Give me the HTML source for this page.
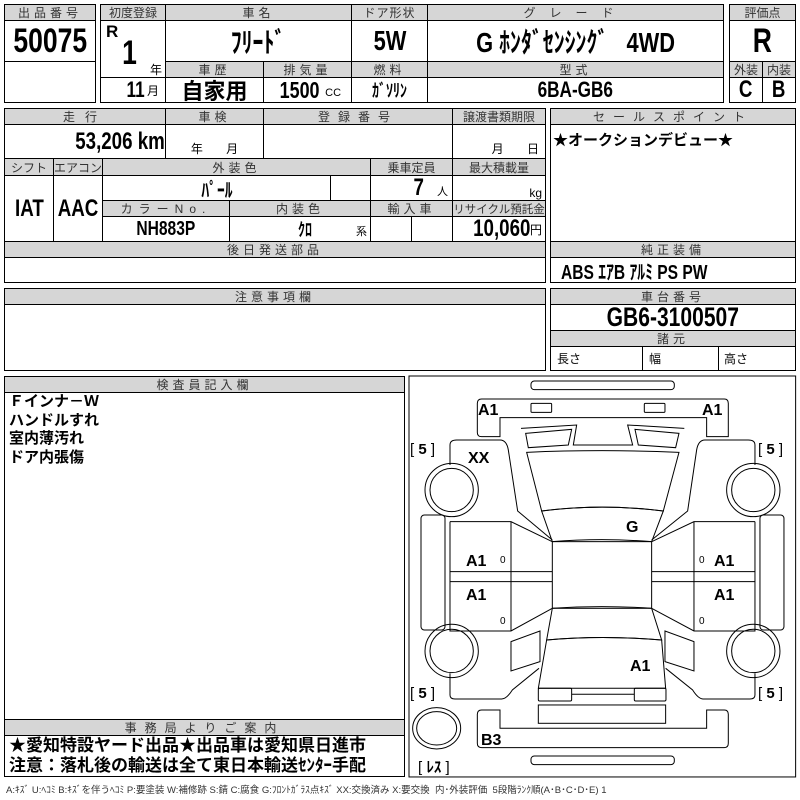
<!DOCTYPE html>
<html><head><meta charset="utf-8">
<style>
*{margin:0;padding:0;box-sizing:border-box}
body{width:800px;height:800px;background:#fff;position:relative;overflow:hidden;font-family:"Liberation Sans","Noto Sans CJK JP",sans-serif;color:#000}
.c{position:absolute;border:1px solid #000;display:flex;align-items:center;justify-content:center;white-space:nowrap}
.h{background:#d6d6d6;font-size:12px;letter-spacing:4px;color:#333}
.b{font-weight:bold}
.n{display:inline-block;transform:scaleX(0.78);font-weight:bold}
.t{position:absolute;white-space:nowrap}
</style></head><body>
<!-- block 1 -->
<div class="c h" style="left:4px;top:4px;width:92px;height:17px">出品番号</div>
<div class="c" style="left:4px;top:20px;width:92px;height:42px;font-size:34px"><span class="n">50075</span></div>
<div class="c" style="left:4px;top:61px;width:92px;height:42px"></div>

<div class="c h" style="left:100px;top:4px;width:66px;height:17px;letter-spacing:0">初度登録</div>
<div class="c h" style="left:165px;top:4px;width:187px;height:17px">車名</div>
<div class="c h" style="left:351px;top:4px;width:77px;height:17px;letter-spacing:1px">ドア形状</div>
<div class="c h" style="left:427px;top:4px;width:297px;height:17px;letter-spacing:14px">グレード</div>
<div class="c" style="left:100px;top:20px;width:66px;height:58px"></div>
<div class="t b" style="left:106px;top:22px;font-size:17px">R</div>
<div class="t" style="left:120px;top:34px;font-size:34px"><span class="n">1</span></div>
<div class="t" style="left:150px;top:61px;font-size:12px">年</div>
<div class="c" style="left:165px;top:20px;width:187px;height:42px;font-size:28px"><span class="n">ﾌﾘｰﾄﾞ</span></div>
<div class="c" style="left:351px;top:20px;width:77px;height:42px;font-size:28px"><span class="n">5W</span></div>
<div class="c" style="left:427px;top:20px;width:297px;height:42px;font-size:28px"><span class="n">G ﾎﾝﾀﾞｾﾝｼﾝｸﾞ &nbsp;&nbsp;4WD</span></div>
<div class="c h" style="left:165px;top:61px;width:99px;height:17px">車歴</div>
<div class="c h" style="left:263px;top:61px;width:89px;height:17px">排気量</div>
<div class="c h" style="left:351px;top:61px;width:77px;height:17px">燃料</div>
<div class="c h" style="left:427px;top:61px;width:297px;height:17px">型式</div>
<div class="c" style="left:100px;top:77px;width:66px;height:26px;justify-content:flex-end;padding-right:6px"><span class="n" style="font-size:22px">11</span><span style="font-size:12px">月</span></div>
<div class="c" style="left:165px;top:77px;width:99px;height:26px;font-size:22px;font-weight:bold">自家用</div>
<div class="c" style="left:263px;top:77px;width:89px;height:26px"><span class="n" style="font-size:23px">1500</span><span style="font-size:11px;margin-top:6px">CC</span></div>
<div class="c" style="left:351px;top:77px;width:77px;height:26px;font-size:18px"><span class="n">ｶﾞｿﾘﾝ</span></div>
<div class="c" style="left:427px;top:77px;width:297px;height:26px;font-size:22px"><span class="n">6BA-GB6</span></div>

<div class="c h" style="left:729px;top:4px;width:67px;height:17px;letter-spacing:0">評価点</div>
<div class="c" style="left:729px;top:20px;width:67px;height:42px;font-size:34px"><span class="n">R</span></div>
<div class="c h" style="left:729px;top:61px;width:34px;height:17px;letter-spacing:0">外装</div>
<div class="c h" style="left:762px;top:61px;width:34px;height:17px;letter-spacing:0">内装</div>
<div class="c" style="left:729px;top:77px;width:34px;height:26px;font-size:24px"><span class="n">C</span></div>
<div class="c" style="left:762px;top:77px;width:34px;height:26px;font-size:24px"><span class="n">B</span></div>

<!-- block 2 -->
<div class="c h" style="left:4px;top:108px;width:162px;height:17px;letter-spacing:10px">走行</div>
<div class="c h" style="left:165px;top:108px;width:99px;height:17px">車検</div>
<div class="c h" style="left:263px;top:108px;width:190px;height:17px;letter-spacing:8px">登録番号</div>
<div class="c h" style="left:452px;top:108px;width:94px;height:17px;letter-spacing:0">譲渡書類期限</div>
<div class="c" style="left:4px;top:124px;width:162px;height:35px;font-size:24px;justify-content:flex-end;padding-right:0"><span class="n" style="transform-origin:right">53,206 km</span></div>
<div class="c" style="left:165px;top:124px;width:99px;height:35px;font-size:12px;align-items:flex-end;padding-bottom:1px">年&nbsp;&nbsp;&nbsp;&nbsp;&nbsp;&nbsp;&nbsp;月</div>
<div class="c" style="left:263px;top:124px;width:190px;height:35px"></div>
<div class="c" style="left:452px;top:124px;width:94px;height:35px;font-size:12px;align-items:flex-end;padding-bottom:1px;justify-content:flex-end;padding-right:6px">月&nbsp;&nbsp;&nbsp;&nbsp;&nbsp;&nbsp;&nbsp;日</div>
<div class="c h" style="left:4px;top:158px;width:50px;height:18px;letter-spacing:0">シフト</div>
<div class="c h" style="left:53px;top:158px;width:50px;height:18px;letter-spacing:0">エアコン</div>
<div class="c h" style="left:102px;top:158px;width:269px;height:18px">外装色</div>
<div class="c h" style="left:370px;top:158px;width:83px;height:18px;letter-spacing:0">乗車定員</div>
<div class="c h" style="left:452px;top:158px;width:94px;height:18px;letter-spacing:0">最大積載量</div>
<div class="c" style="left:4px;top:175px;width:50px;height:67px;font-size:24px"><span class="n">IAT</span></div>
<div class="c" style="left:53px;top:175px;width:50px;height:67px;font-size:24px"><span class="n">AAC</span></div>
<div class="c" style="left:102px;top:175px;width:229px;height:26px;font-size:20px"><span class="n">ﾊﾟｰﾙ</span></div>
<div class="c" style="left:330px;top:175px;width:41px;height:26px"></div>
<div class="c" style="left:370px;top:175px;width:83px;height:26px;justify-content:flex-end;padding-right:4px"><span class="n" style="font-size:24px">7</span><span style="font-size:11px;margin-left:12px;margin-top:6px">人</span></div>
<div class="c" style="left:452px;top:175px;width:94px;height:26px;font-size:12px;justify-content:flex-end;padding-right:3px;align-items:flex-end">kg</div>
<div class="c h" style="left:102px;top:200px;width:128px;height:17px;letter-spacing:6px">カラーNo.</div>
<div class="c h" style="left:229px;top:200px;width:142px;height:17px">内装色</div>
<div class="c h" style="left:370px;top:200px;width:83px;height:17px">輸入車</div>
<div class="c h" style="left:452px;top:200px;width:94px;height:17px;letter-spacing:0;font-size:11.5px">リサイクル預託金</div>
<div class="c" style="left:102px;top:216px;width:128px;height:26px;font-size:20px"><span class="n">NH883P</span></div>
<div class="c" style="left:229px;top:216px;width:142px;height:26px"><span class="n" style="font-size:18px;margin-left:10px">ｸﾛ</span><span style="font-size:11px;position:absolute;right:3px;bottom:2px">系</span></div>
<div class="c" style="left:370px;top:216px;width:42px;height:26px"></div>
<div class="c" style="left:411px;top:216px;width:42px;height:26px"></div>
<div class="c" style="left:452px;top:216px;width:94px;height:26px;justify-content:flex-end;padding-right:3px"><span class="n" style="font-size:24px;transform-origin:right">10,060</span><span style="font-size:12px">円</span></div>
<div class="c h" style="left:4px;top:241px;width:542px;height:17px">後日発送部品</div>
<div class="c" style="left:4px;top:257px;width:542px;height:26px"></div>

<div class="c h" style="left:550px;top:108px;width:246px;height:17px;letter-spacing:8px">セールスポイント</div>
<div class="c" style="left:550px;top:124px;width:246px;height:118px;align-items:flex-start;justify-content:flex-start;padding:4px 2px;font-size:15px;font-weight:bold">★オークションデビュー★</div>
<div class="c h" style="left:550px;top:241px;width:246px;height:17px">純正装備</div>
<div class="c" style="left:550px;top:257px;width:246px;height:26px;justify-content:flex-start;padding-left:0;font-size:20px"><span class="n" style="transform-origin:left;margin-left:10px">ABS ｴｱB ｱﾙﾐ PS PW</span></div>

<div class="c h" style="left:4px;top:288px;width:542px;height:17px">注意事項欄</div>
<div class="c" style="left:4px;top:304px;width:542px;height:67px"></div>
<div class="c h" style="left:550px;top:288px;width:246px;height:17px">車台番号</div>
<div class="c" style="left:550px;top:304px;width:246px;height:27px;font-size:27px"><span class="n">GB6-3100507</span></div>
<div class="c h" style="left:550px;top:330px;width:246px;height:17px">諸元</div>
<div class="c" style="left:550px;top:346px;width:93px;height:25px;font-size:12px;justify-content:flex-start;padding-left:6px">長さ</div>
<div class="c" style="left:642px;top:346px;width:77px;height:25px;font-size:12px;justify-content:flex-start;padding-left:6px">幅</div>
<div class="c" style="left:718px;top:346px;width:78px;height:25px;font-size:12px;justify-content:flex-start;padding-left:5px">高さ</div>

<!-- inspector -->
<div class="c h" style="left:4px;top:376px;width:401px;height:17px">検査員記入欄</div>
<div class="c" style="left:4px;top:392px;width:401px;height:328px"></div>
<div class="t" style="left:9px;top:393px;font-size:15px;font-weight:bold;line-height:18.5px">Ｆインナ－Ｗ<br>ハンドルすれ<br>室内薄汚れ<br>ドア内張傷</div>
<div class="c h" style="left:4px;top:719px;width:401px;height:17px;letter-spacing:8px">事務局よりご案内</div>
<div class="c" style="left:4px;top:735px;width:401px;height:42px"></div>
<div class="t" style="left:9px;top:736px;font-size:17px;font-weight:bold;line-height:19.5px">★愛知特設ヤード出品★出品車は愛知県日進市<br>注意：落札後の輸送は全て東日本輸送ｾﾝﾀｰ手配</div>

<div class="t" style="left:6px;top:782px;font-size:9.5px;color:#333">A:ｷｽﾞ U:ﾍｺﾐ B:ｷｽﾞを伴うﾍｺﾐ P:要塗装 W:補修跡 S:錆 C:腐食 G:ﾌﾛﾝﾄｶﾞﾗｽ点ｷｽﾞ XX:交換済み X:要交換 &nbsp;内･外装評価 &nbsp;5段階ﾗﾝｸ順(A･B･C･D･E) 1</div>

<!-- car diagram -->
<svg style="position:absolute;left:0;top:0" width="800" height="800">
<g transform="translate(405,375) scale(0.3333)" fill="none" stroke="#000" stroke-width="3">
<rect x="12" y="3" width="1160" height="1203"/>
<rect x="378" y="18" width="430" height="26" rx="10"/>
<path d="M217,85 Q217,72 230,72 L958,72 Q970,72 970,85 L970,185 L905,185 L905,128 L285,128 L285,185 L230,185 Q217,185 217,172 Z"/>
<rect x="378" y="85" width="62" height="27" rx="3"/>
<rect x="718" y="85" width="62" height="27" rx="3"/>
<polyline points="348,160 515,150 505,210 683,210 668,150 838,160"/>
<polygon points="362,175 500,163 490,210 370,218"/>
<polygon points="690,163 822,175 812,218 700,210"/>
<path d="M365,232 Q590,222 822,232 L775,408 Q590,385 410,408 Z"/>
<path d="M410,408 Q590,385 775,408 L740,500 Q590,488 442,500 Z"/>
<rect x="442" y="500" width="298" height="200"/>
<path d="M442,700 Q590,690 740,700 L770,795 Q590,780 425,795 Z"/>
<path d="M425,795 Q590,780 770,795 L782,940 L400,940 Z"/>
<rect x="400" y="940" width="100" height="38" rx="4"/>
<rect x="688" y="940" width="95" height="38" rx="4"/>
<line x1="500" y1="958" x2="688" y2="958"/>
<rect x="400" y="990" width="382" height="55"/>
<path d="M217,1018 Q217,1005 230,1005 L285,1005 L285,1060 L905,1060 L905,1005 L958,1005 Q970,1005 970,1018 L970,1105 Q970,1118 958,1118 L230,1118 Q217,1118 217,1105 Z"/>
<rect x="378" y="1143" width="430" height="26" rx="10"/>
<path d="M135,270 L135,210 Q135,195 155,195 L285,195 Q305,195 310,225 L338,408 L442,495"/>
<path d="M1050,270 L1050,210 Q1050,195 1030,195 L900,195 Q880,195 875,225 L848,408 L740,495"/>
<rect x="48" y="420" width="72" height="345" rx="10"/>
<rect x="1065" y="420" width="72" height="345" rx="10"/>
<polyline points="135,440 318,440 442,500"/>
<polyline points="135,440 135,768 318,768 442,700"/>
<line x1="318" y1="440" x2="318" y2="768"/>
<line x1="135" y1="590" x2="442" y2="590"/>
<line x1="135" y1="620" x2="442" y2="620"/>
<polyline points="1050,440 867,440 740,500"/>
<polyline points="1050,440 1050,768 867,768 740,700"/>
<line x1="867" y1="440" x2="867" y2="768"/>
<line x1="1050" y1="590" x2="740" y2="590"/>
<line x1="1050" y1="620" x2="740" y2="620"/>
<polygon points="318,800 405,768 405,860 318,888"/>
<polygon points="867,800 780,768 780,860 867,888"/>
<path d="M135,895 L135,960 Q135,972 150,972 L290,972 Q305,972 322,945 L402,880"/>
<path d="M1050,895 L1050,960 Q1050,972 1035,972 L895,972 Q880,972 863,945 L782,880"/>
<circle cx="140" cy="345" r="80"/><circle cx="140" cy="345" r="65"/>
<circle cx="140" cy="828" r="80"/><circle cx="140" cy="828" r="65"/>
<circle cx="1045" cy="345" r="80"/><circle cx="1045" cy="345" r="65"/>
<circle cx="1045" cy="828" r="80"/><circle cx="1045" cy="828" r="65"/>
<ellipse cx="95" cy="1060" rx="72" ry="62"/><ellipse cx="95" cy="1060" rx="60" ry="50"/>
</g>
<g font-family="Liberation Sans, Noto Sans CJK JP, sans-serif" font-weight="bold" font-size="16">
<text x="478" y="415">A1</text><text x="702" y="415">A1</text>
<text x="468" y="463">XX</text><text x="626" y="532">G</text>
<text x="466" y="566">A1</text><text x="714" y="566">A1</text>
<text x="466" y="600">A1</text><text x="714" y="600">A1</text>
<text x="630" y="671">A1</text><text x="481" y="745">B3</text>
</g>
<g font-family="Liberation Sans, Noto Sans CJK JP, sans-serif" font-size="15">
<text x="410" y="454">[ <tspan font-weight="bold">5</tspan> ]</text>
<text x="758" y="454">[ <tspan font-weight="bold">5</tspan> ]</text>
<text x="410" y="698">[ <tspan font-weight="bold">5</tspan> ]</text>
<text x="758" y="698">[ <tspan font-weight="bold">5</tspan> ]</text>
<text x="418" y="772">[ <tspan font-weight="bold">ﾚｽ</tspan> ]</text>
</g>
<g font-family="Liberation Sans, sans-serif" font-size="10">
<text x="500" y="563">0</text><text x="699" y="563">0</text>
<text x="500" y="624">0</text><text x="699" y="624">0</text>
</g>
</svg>
</body></html>
